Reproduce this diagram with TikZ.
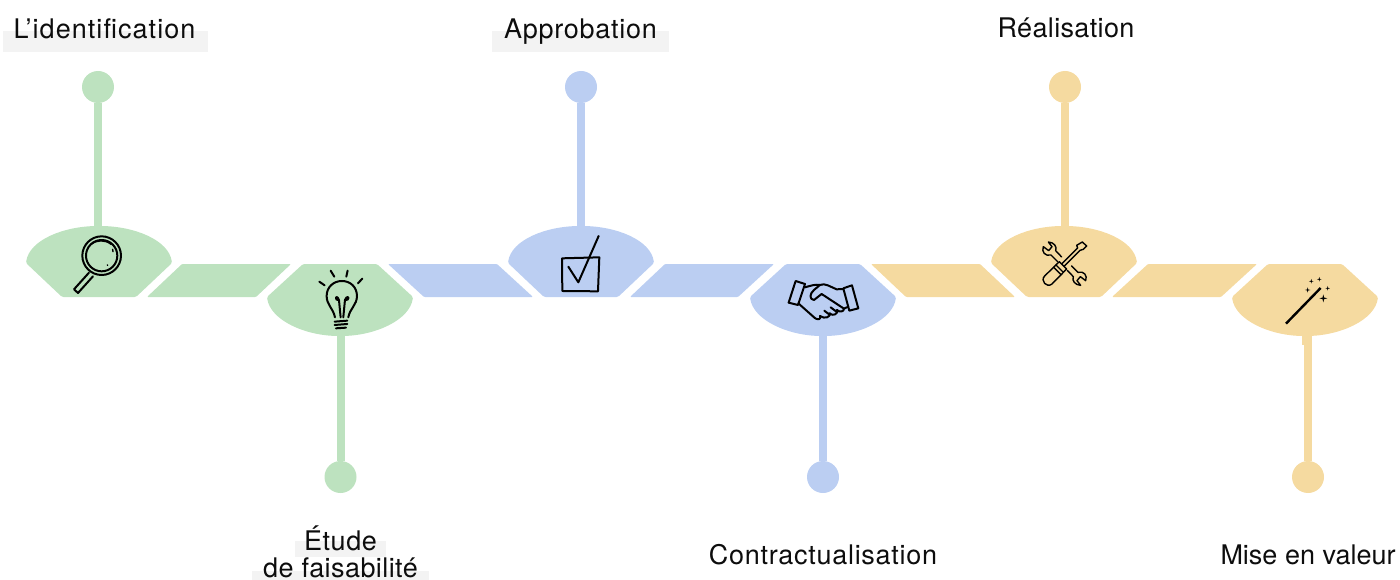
\documentclass[tikz,border=0pt]{standalone}
\usepackage{fontspec}
\setmainfont{TeX Gyre Heros}
\definecolor{bgreen}{HTML}{BDE2BF}
\definecolor{bblue}{HTML}{BBCEF2}
\definecolor{byellow}{HTML}{F5DAA0}
\definecolor{lblbg}{HTML}{F3F3F3}
\tikzset{
  x=1pt,y=-1pt,
  upblade/.pic={
    \fill[#1,rounded corners=1.5pt] (-73,263) .. controls (-70,240) and (-35,226) .. (0,226) .. controls (35,226) and (70,240) .. (73,263) -- (37,297) -- (-37,297) -- cycle;
    \coordinate (-apex) at (0,226);
  },
  downblade/.pic={
    \fill[#1,rounded corners=1.5pt] (-73,297) .. controls (-70,320) and (-35,336) .. (0,336) .. controls (35,336) and (70,320) .. (73,297) -- (37,264) -- (-37,264) -- cycle;
    \coordinate (-apex) at (0,336);
  },
  dot/.style={circle,inner sep=0pt,minimum size=32pt,fill=#1},
  stem/.style={line width=8pt,draw=#1},
  lbl/.style={anchor=base,inner sep=0pt,font=\fontsize{27}{30}\selectfont,text=black!95},
  ink/.style={draw=black,line width=2pt,line cap=round,line join=round,fill=none},
  thin ink/.style={draw=black,line width=1.4pt,line cap=round,line join=round,fill=none},
  zoomA/.style={shift={(0,200)},scale=0.3333},
  zoomB/.style={shift={(490,210)},scale=0.3333},
  zoomC/.style={shift={(970,210)},scale=0.3333},
}
\newcommand{\sparkle}[3]{\fill[black] (#1-#3,#2) -- (#1-#3*0.2,#2-#3*0.2) -- (#1,#2-#3) -- (#1+#3*0.2,#2-#3*0.2) -- (#1+#3,#2) -- (#1+#3*0.2,#2+#3*0.2) -- (#1,#2+#3) -- (#1-#3*0.2,#2+#3*0.2) -- cycle;}
\newcommand{\spaced}[2]{{\addfontfeature{LetterSpace=#1}#2}}
\begin{document}
\begin{tikzpicture}
\useasboundingbox (0,0) rectangle (1400,580);
% label backgrounds
\fill[lblbg] (3,31) rectangle (208,52);
\fill[lblbg] (492,31) rectangle (669,52);
\fill[lblbg] (295,541) rectangle (386,557);
\fill[lblbg] (252,571) rectangle (429,580);
% blades
\pic (s1) at (99,0) {upblade=bgreen};
\pic (s2) at (340,0) {downblade=bgreen};
\pic (s3) at (581,0) {upblade=bblue};
\pic (s4) at (823,0) {downblade=bblue};
\pic (s5) at (1064,0) {upblade=byellow};
\pic (s6) at (1305,0) {downblade=byellow};
% parallelograms
\fill[bgreen,rounded corners=1pt] (147,297) -- (182,264) -- (291,264) -- (256,297) -- cycle;
\fill[bblue,rounded corners=1pt] (388,264) -- (497,264) -- (533,297) -- (424,297) -- cycle;
\fill[bblue,rounded corners=1pt] (630,297) -- (665,264) -- (774,264) -- (738,297) -- cycle;
\fill[byellow,rounded corners=1pt] (871,264) -- (980,264) -- (1015,297) -- (906,297) -- cycle;
\fill[byellow,rounded corners=1pt] (1112,297) -- (1148,264) -- (1257,264) -- (1221,297) -- cycle;
% dots
\node[dot=bgreen] (c1) at (98,87) {};
\node[dot=bgreen] (c2) at (340.5,477) {};
\node[dot=bblue] (c3) at (581,87) {};
\node[dot=bblue] (c4) at (823,477) {};
\node[dot=byellow] (c5) at (1065,87) {};
\node[dot=byellow] (c6) at (1308,477) {};
% stems
\draw[stem=bgreen] (c1) -- (c1 |- s1-apex);
\draw[stem=bgreen] (c2) -- (c2 |- s2-apex);
\draw[stem=bblue] (c3) -- (c3 |- s3-apex);
\draw[stem=bblue] (c4) -- (c4 |- s4-apex);
\draw[stem=byellow] (c5) -- (c5 |- s5-apex);
\draw[stem=byellow] (c6) -- (c6 |- s6-apex);
\fill[byellow] (1302,334) rectangle (1308,345);
% labels
\node[lbl] (l1) at (104.5,38.5) {\spaced{3.9}{L’identification}};
\node[lbl] (l2a) at (340.5,550) {\spaced{2.2}{Étude}};
\node[lbl] (l2b) at (340.5,577.5) {\spaced{1.6}{de faisabilité}};
\node[lbl] (l3) at (580.5,38.5) {\spaced{2.7}{Approbation}};
\node[lbl] (l4) at (823,564.5) {\spaced{2.7}{Contractualisation}};
\node[lbl] (l5) at (1066,37.5) {\spaced{1.3}{Réalisation}};
\node[lbl] (l6) at (1308,564.5) {Mise en valeur};
% magnifier
\begin{scope}[zoomA]
\draw[ink] (305,167) circle[radius=58];
\draw[ink] (305,167) circle[radius=47];
\draw[thin ink] (272,133) .. controls (290,120) and (315,118) .. (333,133);
\draw[thin ink] (338,148) -- (339,155);
\draw[thin ink] (322,195) -- (323,196);
\draw[ink] (267,218) -- (222,268) -- (234,279) -- (279,229);
\end{scope}
% bulb
\begin{scope}[zoomA]
\draw[ink] (1005,352) .. controls (1000,325) and (980,315) .. (980,288) .. controls (980,262) and (1000,243) .. (1026,243) .. controls (1052,243) and (1071,262) .. (1071,288) .. controls (1071,315) and (1050,325) .. (1045,352);
\draw[ink] (1022,352) -- (1017,300) .. controls (1012,285) and (1004,292) .. (1010,299) -- (1017,300);
\draw[ink] (1030,352) -- (1035,300) .. controls (1040,285) and (1050,292) .. (1043,299) -- (1035,300);
\draw[ink] (1004,365) -- (1042,362);
\draw[ink] (1004,375) -- (1042,372);
\draw[ink] (1008,385) -- (1038,383);
\draw[ink] (958,245) -- (974,256);
\draw[ink] (992,212) -- (1003,230);
\draw[ink] (1043,212) -- (1039,230);
\draw[ink] (1087,236) -- (1074,250);
\end{scope}
% checkbox
\begin{scope}[zoomB]
\draw[ink] (216,145) -- (328,142) -- (324,244) -- (217,243) -- cycle;
\draw[ink] (235,170) -- (265,217) -- (326,78);
\end{scope}
% handshake
\begin{scope}[zoomB]
\draw[ink] (917,213) -- (945,222) -- (924,285) -- (896,278) -- cycle;
\draw[ink] (1060,235) -- (1086,226) -- (1105,295) -- (1078,302) -- cycle;
\draw[ink] (1060,237) -- (1040,238) .. controls (1020,230) and (1005,218) .. (990,225) -- (972,240) .. controls (958,252) and (958,268) .. (972,270) -- (995,252) -- (1062,296);
\draw[ink] (990,225) .. controls (975,222) and (960,228) .. (945,232);
\draw[ink] (925,280) -- (970,320) .. controls (985,335) and (995,325) .. (990,318);
\draw[ink] (1075,290) -- (1062,296) .. controls (1062,305) and (1050,308) .. (1040,300);
\draw[ink] (1042,300) .. controls (1044,312) and (1030,320) .. (1018,310);
\draw[ink] (1020,310) .. controls (1020,322) and (1005,328) .. (990,318);
\draw[ink] (1022,292) -- (1042,307);
\draw[ink] (1003,302) -- (1020,315);
\end{scope}
% wrench and screwdriver
\begin{scope}[zoomC]
% wrench, head A
\draw[thin ink] (275,141) -- (257,122) .. controls (262,110) and (252,97) .. (235,96) -- (246,110) -- (236,122) -- (220,110) .. controls (214,125) and (225,140) .. (243,135) -- (262,154);
% wrench, head B
\draw[thin ink] (292,181) -- (310,200) .. controls (305,212) and (315,225) .. (332,226) -- (321,212) -- (331,200) -- (347,212) .. controls (353,197) and (342,182) .. (324,187) -- (305,168);
% screwdriver blade and tip
\draw[thin ink] (276,161) -- (323,114) -- (320,106) -- (337,96) -- (350,108) -- (340,118) -- (330,121) -- (283,168);
% screwdriver handle
\draw[thin ink] (268,155) -- (290,177) -- (246,222) .. controls (230,235) and (210,212) .. (224,198) -- cycle;
\draw[thin ink] (258,165) -- (280,187);
\draw[thin ink] (251,172) -- (273,194);
\end{scope}
% wand
\begin{scope}[zoomC]
\draw[draw=black,line width=2.4pt] (948,341) -- (1052,234);
\sparkle{1024}{214}{7}
\sparkle{1048}{208}{7}
\sparkle{1013}{240}{8}
\sparkle{1073}{235}{7}
\sparkle{1060}{265}{12}
\end{scope}
\end{tikzpicture}
\end{document}
